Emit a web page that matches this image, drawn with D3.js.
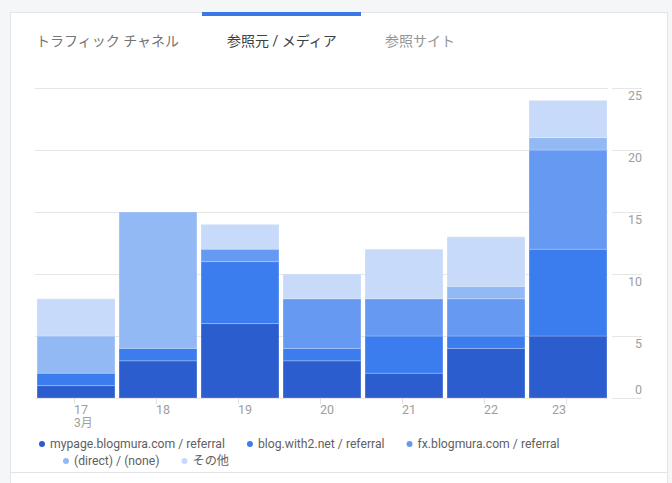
<!DOCTYPE html>
<html>
<head>
<meta charset="utf-8">
<script src="https://cdn.jsdelivr.net/npm/d3@7"></script>
<style>
  html, body { margin: 0; padding: 0; background: #f5f6f8; }
  svg { display: block; font-family: Roboto, "Noto Sans CJK JP", sans-serif; }
</style>
</head>
<body>
<svg id="chart"></svg>
<script>
const WIDTH = 672;
const HEIGHT = 483;

// Plot area.
const PLOT_LEFT = 35;
const PLOT_RIGHT = 609;
const PLOT_TOP = 88;
const PLOT_BOTTOM = 398;

// Data.
const days = ['17', '18', '19', '20', '21', '22', '23'];
const seriesNames = [
  'mypage.blogmura.com / referral',
  'blog.with2.net / referral',
  'fx.blogmura.com / referral',
  '(direct) / (none)',
  'その他'
];
const mypage = [1, 3, 6, 3, 2, 4, 5];
const blogWith2 = [1, 1, 5, 1, 3, 1, 7];
const fxBlogmura = [0, 0, 1, 4, 3, 3, 8];
const direct = [3, 11, 0, 0, 0, 1, 1];
const others = [3, 0, 2, 2, 4, 4, 3];
const yTicks = [0, 5, 10, 15, 20, 25];
const tabs = ['トラフィック チャネル', '参照元 / メディア', '参照サイト'];

const colors = ['#2b5dce', '#3b7cef', '#6699f2', '#93b9f5', '#c8daf9'];

const seriesValues = [mypage, blogWith2, fxBlogmura, direct, others];

// One row per day, one key per series.
const table = days.map((day, i) => {
  const row = {day};
  seriesNames.forEach((name, s) => { row[name] = seriesValues[s][i]; });
  return row;
});

const svg = d3.select('#chart').attr('width', WIDTH).attr('height', HEIGHT);

// Card.
svg.append('rect')
  .attr('x', 10.5).attr('y', 12.5)
  .attr('width', 657).attr('height', 490)
  .attr('fill', '#fff')
  .attr('stroke', '#e3e4e6');

// Tabs.
const tabX = [36, 227, 385];
const tabColors = ['#757575', '#3c4043', '#959595'];
svg.selectAll('.tab')
  .data(tabs)
  .join('text')
  .attr('class', 'tab')
  .attr('x', (_, i) => tabX[i])
  .attr('y', 46)
  .attr('font-size', 14)
  .attr('fill', (_, i) => tabColors[i])
  .text(d => d);

// Active tab indicator.
svg.append('rect')
  .attr('x', 202).attr('y', 12)
  .attr('width', 159).attr('height', 4)
  .attr('fill', '#3b78e7');

const xScale = d3.scaleBand()
  .domain(days)
  .range([PLOT_LEFT, PLOT_RIGHT])
  .paddingInner(0.05)
  .paddingOuter(0.025);

const yScale = d3.scaleLinear()
  .domain([0, 25])
  .range([PLOT_BOTTOM, PLOT_TOP]);

// Grid lines: one part across the plot, one part above the labels.
const grid = svg.append('g').attr('class', 'grid');
grid.selectAll('.g1')
  .data(yTicks)
  .join('line')
  .attr('x1', PLOT_LEFT).attr('x2', 608)
  .attr('y1', d => Math.round(yScale(d)) + 0.5)
  .attr('y2', d => Math.round(yScale(d)) + 0.5)
  .attr('stroke', '#e6e6e6');
grid.selectAll('.g2')
  .data(yTicks)
  .join('line')
  .attr('x1', 612).attr('x2', 642)
  .attr('y1', d => Math.round(yScale(d)) + 0.5)
  .attr('y2', d => Math.round(yScale(d)) + 0.5)
  .attr('stroke', '#e6e6e6');

// Y labels sit under their line, except zero which sits above.
svg.append('g')
  .selectAll('text')
  .data(yTicks)
  .join('text')
  .attr('x', 642)
  .attr('y', d => d === 0 ? yScale(d) - 4 : yScale(d) + 12)
  .attr('text-anchor', 'end')
  .attr('font-size', 12.5)
  .attr('fill', '#9e9e9e')
  .text(d => d);

// Stacked bars.
const stacked = d3.stack().keys(seriesNames)(table);

svg.append('g')
  .selectAll('g')
  .data(stacked)
  .join('g')
  .attr('fill', (_, i) => colors[i])
  .selectAll('rect')
  .data(d => d.filter(p => p[1] > p[0]))
  .join('rect')
  .attr('x', d => xScale(d.data.day))
  .attr('width', xScale.bandwidth())
  .attr('y', d => yScale(d[1]))
  .attr('height', d => yScale(d[0]) - yScale(d[1]))
  .attr('stroke', 'rgba(255,255,255,0.22)')
  .attr('stroke-width', 1);

// X axis ticks and labels.
const xAxis = svg.append('g');
xAxis.selectAll('line')
  .data(days)
  .join('line')
  .attr('x1', d => Math.round(xScale(d) + xScale.bandwidth() / 2) - 1.5)
  .attr('x2', d => Math.round(xScale(d) + xScale.bandwidth() / 2) - 1.5)
  .attr('y1', PLOT_BOTTOM)
  .attr('y2', PLOT_BOTTOM + 6)
  .attr('stroke', '#e0e0e0');
xAxis.selectAll('text')
  .data(days)
  .join('text')
  .attr('x', d => xScale(d) + xScale.bandwidth() / 2 - 2)
  .attr('y', 414)
  .attr('text-anchor', (_, i) => i === days.length - 1 ? 'end' : 'start')
  .attr('font-size', 12.5)
  .attr('fill', '#9e9e9e')
  .text(d => d);
xAxis.append('text')
  .attr('x', xScale(days[0]) + xScale.bandwidth() / 2 - 2)
  .attr('y', 427)
  .attr('font-size', 12)
  .attr('fill', '#9e9e9e')
  .text('3月');

// Legend, two rows.
const legendRows = [[0, 1, 2], [3, 4]];
const rowStartX = [42, 66];
const rowY = [444, 461];
legendRows.forEach((row, r) => {
  let x = rowStartX[r];
  row.forEach(s => {
    const item = svg.append('g');
    item.append('circle')
      .attr('cx', x).attr('cy', rowY[r])
      .attr('r', 3)
      .attr('fill', colors[s]);
    const label = item.append('text')
      .attr('x', x + 8)
      .attr('y', rowY[r] + 4)
      .attr('font-size', 12.2)
      .attr('fill', '#616161')
      .text(seriesNames[s]);
    x += 8 + label.node().getComputedTextLength() + 25;
  });
});

// Footer divider.
svg.append('line')
  .attr('x1', 10).attr('x2', 667)
  .attr('y1', 472.5).attr('y2', 472.5)
  .attr('stroke', '#e3e4e6');
</script>
</body>
</html>
